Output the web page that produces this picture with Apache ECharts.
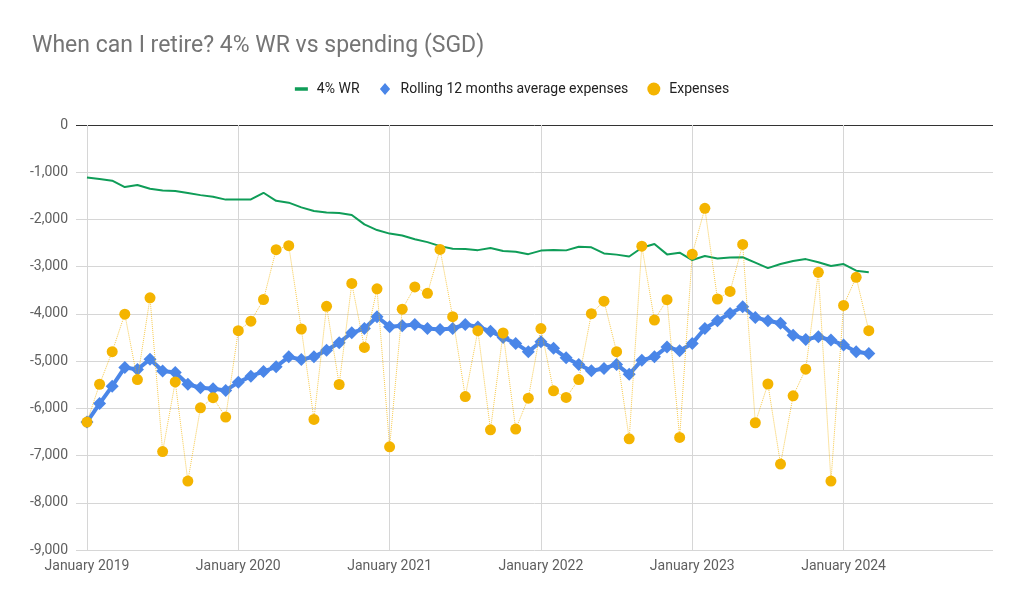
<!DOCTYPE html>
<html>
<head>
<meta charset="utf-8">
<script src="https://cdn.jsdelivr.net/npm/echarts@6/dist/echarts.min.js"></script>
<style>html,body{margin:0;padding:0;background:#fff}#c{width:1024px;height:604px}</style>
</head>
<body>
<div id="c"></div>
<script>
// Month index 0 = January 2019
const yearTicks = [0, 12, 24, 36, 48, 60];
const yearLabels = ['January 2019', 'January 2020', 'January 2021', 'January 2022', 'January 2023', 'January 2024'];

const wr4 = [-1110,-1145,-1180,-1315,-1270,-1350,-1385,-1400,-1440,-1485,-1520,-1580,
  -1575,-1575,-1435,-1605,-1645,-1745,-1820,-1855,-1865,-1905,-2105,-2225,
  -2300,-2340,-2420,-2480,-2565,-2620,-2625,-2650,-2605,-2670,-2685,-2735,
  -2660,-2645,-2655,-2580,-2590,-2720,-2745,-2785,-2600,-2520,-2740,-2705,
  -2860,-2775,-2825,-2805,-2800,-2915,-3030,-2945,-2880,-2840,-2905,-2985,
  -2945,-3085,-3120];

const rolling = [-6290,-5900,-5530,-5135,-5175,-4960,-5210,-5240,-5490,-5565,-5585,-5620,
  -5450,-5320,-5220,-5120,-4910,-4965,-4910,-4770,-4610,-4400,-4310,-4060,
  -4270,-4250,-4225,-4310,-4330,-4310,-4225,-4275,-4365,-4500,-4625,-4800,
  -4590,-4730,-4930,-5070,-5205,-5155,-5070,-5280,-4980,-4910,-4700,-4780,
  -4625,-4310,-4145,-3990,-3850,-4075,-4145,-4200,-4450,-4540,-4485,-4555,
  -4660,-4800,-4840];

const expenses = [-6290,-5490,-4800,-4005,-5390,-3660,-6915,-5440,-7540,-5990,-5775,-6185,
  -4355,-4155,-3695,-2640,-2555,-4320,-6235,-3840,-5495,-3355,-4710,-3470,
  -6815,-3900,-3430,-3565,-2635,-4060,-5750,-4355,-6455,-4405,-6440,-5785,
  -4310,-5630,-5770,-5390,-3995,-3730,-4800,-6645,-2565,-4130,-3700,-6615,
  -2735,-1765,-3685,-3525,-2530,-6305,-5485,-7180,-5735,-5170,-3120,-7540,
  -3820,-3225,-4355];

const toXY = arr => arr.map((v, i) => [i, v]);

const chart = echarts.init(document.getElementById('c'), null, {renderer: 'canvas'});
const font = 'Roboto, "Noto Sans", sans-serif';
chart.setOption({
  animation: false,
  backgroundColor: '#ffffff',
  title: {
    text: 'When can I retire? 4% WR vs spending (SGD)',
    left: 27, top: 30,
    textStyle: {fontFamily: font, fontSize: 23, fontWeight: 'normal', color: '#757575'}
  },
  legend: {
    top: 77, left: 'center',
    itemWidth: 13, itemHeight: 13, itemGap: 19,
    textStyle: {fontFamily: font, fontSize: 14, color: '#222', padding: [0, 0, 0, 4]},
    data: [
      {name: '4% WR', icon: 'path://M0,0L0,0ZM0,5L14,5L14,9L0,9ZM14,14L14,14Z'},
      {name: 'Rolling 12 months average expenses', icon: 'path://M0,0L0,0ZM7,0.5L12.5,7L7,13.5L1.5,7ZM14,14L14,14Z'},
      {name: 'Expenses', icon: 'circle'}
    ]
  },
  grid: {left: 76, right: 31, top: 125, bottom: 54, containLabel: false},
  xAxis: {
    type: 'value', min: -0.87, max: 71.85,
    axisLine: {show: false},
    axisTick: {show: false, customValues: yearTicks},
    axisLabel: {
      customValues: yearTicks,
      formatter: v => yearLabels[yearTicks.indexOf(Math.round(v))] || '',
      fontFamily: font, fontSize: 14, color: '#5f5f5f', margin: 9
    },
    splitLine: {show: true, lineStyle: {color: '#d6d6d6', width: 1}}
  },
  yAxis: {
    type: 'value', min: -9000, max: 0, interval: 1000,
    axisLine: {show: false}, axisTick: {show: false},
    axisLabel: {
      formatter: v => v.toLocaleString('en-US'),
      fontFamily: font, fontSize: 14, color: '#5f5f5f', margin: 8
    },
    splitLine: {show: true, lineStyle: {color: ['#d6d6d6','#d6d6d6','#d6d6d6','#d6d6d6','#d6d6d6','#d6d6d6','#d6d6d6','#d6d6d6','#d6d6d6','#333333'], width: 1}}
  },
  series: [
    {
      name: '4% WR', type: 'line', data: toXY(wr4),
      showSymbol: false, symbol: 'none',
      lineStyle: {color: '#0f9d58', width: 2}, itemStyle: {color: '#0f9d58'}, z: 2
    },
    {
      name: 'Rolling 12 months average expenses', type: 'line', data: toXY(rolling),
      symbol: 'diamond', symbolSize: 13, showAllSymbol: true,
      lineStyle: {color: '#4a86e8', width: 4}, itemStyle: {color: '#4a86e8'}, z: 3
    },
    {
      name: 'Expenses', type: 'line', data: toXY(expenses),
      symbol: 'circle', symbolSize: 11, showAllSymbol: true,
      lineStyle: {color: '#f4b400', width: 1, type: 'dotted', opacity: 0.7},
      itemStyle: {color: '#f4b400'}, z: 4
    }
  ]
});
</script>
</body>
</html>
